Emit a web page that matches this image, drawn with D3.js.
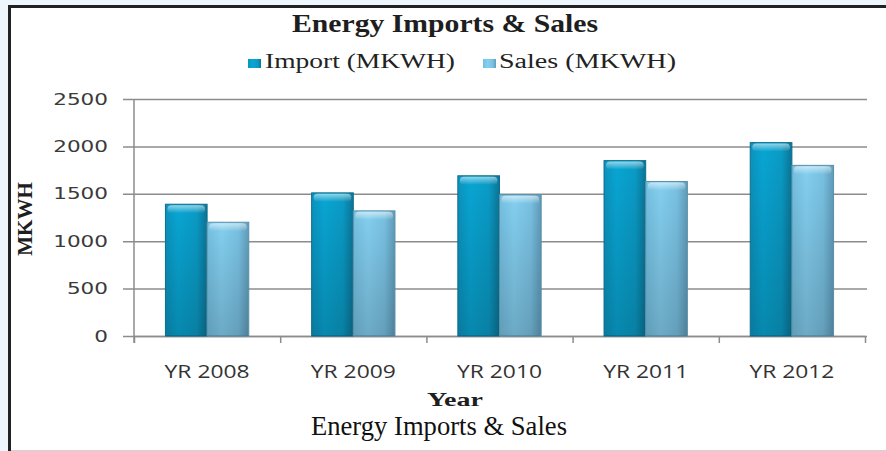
<!DOCTYPE html>
<html>
<head>
<meta charset="utf-8">
<style>
    body { margin: 0; background: #eef6fd; }
    svg { display: block; }
</style>
</head>
<body>
<svg width="886" height="451"></svg>
<script src="https://d3js.org/d3.v7.min.js"></script>
<script>
    // values
    const years = ["YR 2008", "YR 2009", "YR 2010", "YR 2011", "YR 2012"];
    const series = ["Import (MKWH)", "Sales (MKWH)"];
    const importVals = [1390, 1510, 1690, 1850, 2040];
    const salesVals = [1200, 1320, 1490, 1630, 1800];
    const yTicks = [0, 500, 1000, 1500, 2000, 2500];

    const rows = years.map((y, i) => ({ year: y, values: [importVals[i], salesVals[i]] }));

    const svg = d3.select("svg");
    const plotLeft = 134, plotRight = 865, plotTop = 99, plotBottom = 336;

    // frame
    svg.append("rect").attr("x", 11).attr("y", 8).attr("width", 880).attr("height", 442).attr("fill", "#fff");
    svg.append("line").attr("x1", 9.5).attr("x2", 9.5).attr("y1", 5).attr("y2", 451).attr("stroke", "#222").attr("stroke-width", 3);
    svg.append("line").attr("x1", 8).attr("x2", 886).attr("y1", 6.5).attr("y2", 6.5).attr("stroke", "#222").attr("stroke-width", 3);
    svg.append("line").attr("x1", 11).attr("x2", 886).attr("y1", 450.5).attr("y2", 450.5).attr("stroke", "#d0d4d8").attr("stroke-width", 1);

    const defs = svg.append("defs");
    function hGrad(id, stops) {
        let g = defs.append("linearGradient").attr("id", id).attr("x1", 0).attr("x2", 1).attr("y1", 0).attr("y2", 0);
        stops.forEach(s => g.append("stop").attr("offset", s[0]).attr("stop-color", s[1]));
    }
    hGrad("gImp", [[0, "#0b93bf"], [0.3, "#08a6d4"], [0.75, "#0a9bc6"], [1, "#0b7597"]]);
    hGrad("gSal", [[0, "#74bfe0"], [0.35, "#84cff0"], [0.75, "#79c1e2"], [1, "#5f9cba"]]);
    let shade = defs.append("linearGradient").attr("id", "shade").attr("x1", 0).attr("x2", 0).attr("y1", 0).attr("y2", 1);
    shade.append("stop").attr("offset", 0).attr("stop-color", "#000").attr("stop-opacity", 0);
    shade.append("stop").attr("offset", 1).attr("stop-color", "#000").attr("stop-opacity", 0.18);
    let hi = defs.append("linearGradient").attr("id", "hi").attr("x1", 0).attr("x2", 0).attr("y1", 0).attr("y2", 1);
    hi.append("stop").attr("offset", 0).attr("stop-color", "#fff").attr("stop-opacity", 0.55);
    hi.append("stop").attr("offset", 1).attr("stop-color", "#fff").attr("stop-opacity", 0);

    // scales
    const y = d3.scaleLinear().domain([0, 2500]).range([plotBottom, plotTop]);
    const x0 = d3.scaleBand().domain(years).range([plotLeft, plotRight]).paddingInner(0.43).paddingOuter(0.215);
    const x1 = d3.scaleBand().domain(series).range([0, x0.bandwidth()]);
    const xEdge = d3.scaleLinear().domain([0, years.length]).range([plotLeft, plotRight]);

    // grid + y axis
    const yAxis = svg.append("g").attr("transform", `translate(${plotLeft},0)`)
        .call(d3.axisLeft(y).tickValues(yTicks).tickFormat(d3.format("d"))
            .tickSizeInner(-(plotRight + 2 - plotLeft)).tickSizeOuter(0).tickPadding(26));
    yAxis.select(".domain").remove();
    yAxis.selectAll(".tick line").attr("x1", -11).attr("stroke", "#8c8c8c").attr("stroke-width", 1.5);
    yAxis.selectAll(".tick text")
        .attr("x", -26)
        .style("font-family", "'DejaVu Sans', Verdana, sans-serif")
        .style("font-size", "16px")
        .attr("fill", "#3a3a3a")
        .attr("textLength", d => String(d).length * 13.7)
        .attr("lengthAdjust", "spacingAndGlyphs");

    svg.append("line").attr("x1", plotLeft).attr("x2", plotLeft).attr("y1", plotTop).attr("y2", plotBottom + 7)
        .attr("stroke", "#8c8c8c").attr("stroke-width", 1.5);

    // category boundary ticks
    const xTicks = svg.append("g").attr("transform", `translate(0,${plotBottom})`)
        .call(d3.axisBottom(xEdge).tickValues(d3.range(years.length + 1)).tickFormat("").tickSize(7).tickSizeOuter(0));
    xTicks.select(".domain").attr("stroke", "#8c8c8c").attr("stroke-width", 1.5);
    xTicks.selectAll(".tick line").attr("stroke", "#8c8c8c").attr("stroke-width", 1.5);

    // bars
    const groups = svg.append("g").selectAll("g").data(rows).join("g")
        .attr("transform", d => `translate(${x0(d.year)},0)`);
    const bars = groups.selectAll("g").data(d => d.values.map((v, i) => ({ key: series[i], v, i }))).join("g");
    bars.append("rect")
        .attr("x", d => x1(d.key)).attr("y", d => y(d.v))
        .attr("width", x1.bandwidth()).attr("height", d => y(0) - y(d.v))
        .attr("fill", d => d.i == 0 ? "url(#gImp)" : "url(#gSal)")
        .attr("stroke", d => d.i == 0 ? "#0d6d8a" : "#5a8fa8").attr("stroke-width", 1);
    bars.append("rect")
        .attr("x", d => x1(d.key) + 0.5).attr("y", d => y(d.v))
        .attr("width", x1.bandwidth() - 1).attr("height", d => y(0) - y(d.v))
        .attr("fill", "url(#shade)");
    bars.append("rect")
        .attr("x", d => x1(d.key) + 2).attr("y", d => y(d.v) + 1)
        .attr("width", x1.bandwidth() - 4).attr("height", 8).attr("rx", 4)
        .attr("fill", "url(#hi)");

    // x labels
    const xAxis = svg.append("g").attr("transform", `translate(0,${plotBottom})`)
        .call(d3.axisBottom(x0).tickSize(0).tickPadding(29));
    xAxis.select(".domain").remove();
    xAxis.selectAll(".tick text")
        .style("font-family", "'Open Sans', sans-serif")
        .style("font-size", "18px")
        .attr("fill", "#333")
        .attr("textLength", 85)
        .attr("lengthAdjust", "spacingAndGlyphs");

    // title
    svg.append("text").attr("x", 445).attr("y", 32).attr("text-anchor", "middle")
        .style("font-family", "'Liberation Serif', 'Times New Roman', serif")
        .style("font-size", "25px").style("font-weight", "bold").attr("fill", "#1e1e1e")
        .attr("textLength", 306).attr("lengthAdjust", "spacingAndGlyphs")
        .text("Energy Imports & Sales");

    // legend
    const legX = [248, 483], legTextX = [265, 499], legW = [190, 177];
    const leg = svg.append("g").selectAll("g").data(series).join("g");
    leg.append("rect").attr("x", (d, i) => legX[i]).attr("y", 59).attr("width", 13).attr("height", 9)
        .attr("fill", (d, i) => i == 0 ? "url(#gImp)" : "url(#gSal)");
    leg.append("text").attr("x", (d, i) => legTextX[i]).attr("y", 68)
        .style("font-family", "'Liberation Serif', 'Times New Roman', serif")
        .style("font-size", "20px").attr("fill", "#222")
        .attr("textLength", (d, i) => legW[i]).attr("lengthAdjust", "spacingAndGlyphs")
        .text(d => d);

    // axis titles
    svg.append("text").attr("transform", "translate(32,219) rotate(-90)").attr("text-anchor", "middle")
        .style("font-family", "'Liberation Serif', 'Times New Roman', serif")
        .style("font-size", "21px").style("font-weight", "bold").attr("fill", "#1e1e1e")
        .text("MKWH");
    svg.append("text").attr("x", 455).attr("y", 406).attr("text-anchor", "middle")
        .style("font-family", "'Liberation Serif', 'Times New Roman', serif")
        .style("font-size", "19px").style("font-weight", "bold").attr("fill", "#1e1e1e")
        .attr("textLength", 56).attr("lengthAdjust", "spacingAndGlyphs")
        .text("Year");

    // caption under the chart
    svg.append("text").attr("x", 439).attr("y", 435).attr("text-anchor", "middle")
        .style("font-family", "'Liberation Serif', 'Times New Roman', serif")
        .style("font-size", "28px").attr("fill", "#111")
        .attr("textLength", 256).attr("lengthAdjust", "spacingAndGlyphs")
        .text("Energy Imports & Sales");
</script>
</body>
</html>
